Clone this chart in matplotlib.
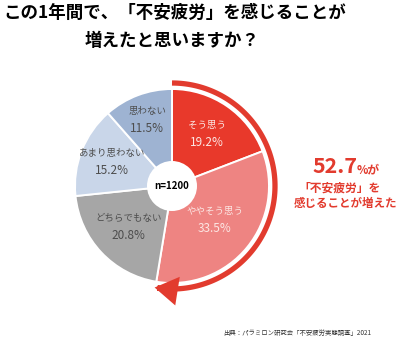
import numpy as np
import matplotlib.pyplot as plt
from matplotlib.patches import Circle, FancyArrowPatch
from matplotlib.path import Path

plt.rcParams['font.family'] = ['Noto Sans CJK JP', 'DejaVu Sans']

labels = ['そう思う', 'ややそう思う', 'どちらでもない', 'あまり思わない', '思わない']
shares = [19.2, 33.5, 20.8, 15.2, 11.5]
colors = ['#E8392B', '#EE8482', '#A6A6A6', '#C9D6E9', '#9EB3D2']
text_colors = ['#FCE6E3', '#FCE6E3', '#4D4D4D', '#4D4D4D', '#4D4D4D']
sample_size = 1200
increased = shares[0] + shares[1]

RED = '#E23B2E'

fig = plt.figure(figsize=(4.0, 3.47), dpi=100)
ax = fig.add_axes([0, 0, 1, 1])

cx, cy, radius = 172, 161, 97

wedges, _ = ax.pie(shares, colors=colors, startangle=90, counterclock=False,
                   center=(cx, cy), radius=radius, frame=True,
                   wedgeprops=dict(edgecolor='white', linewidth=1.4))
ax.set_xlim(0, 400)
ax.set_ylim(0, 347)
ax.set_aspect('equal')
ax.axis('off')

# slice labels: name above, percentage below, along each slice's mid angle
label_r = [0.64, 0.57, 0.62, 0.66, 0.72]
for w, lab, val, tc, lr in zip(wedges, labels, shares, text_colors, label_r):
    mid = np.deg2rad((w.theta1 + w.theta2) / 2)
    x = cx + radius * lr * np.cos(mid)
    y = cy + radius * lr * np.sin(mid)
    ax.text(x, y + 9, lab, ha='center', va='center', fontsize=6.8, color=tc)
    ax.text(x, y - 8, f'{val}%', ha='center', va='center', fontsize=8.5, color=tc)

ax.add_patch(Circle((cx, cy), 25, facecolor='white', edgecolor='none', zorder=3))
ax.text(cx, cy, f'n={sample_size}', ha='center', va='center', fontsize=7,
        fontweight='bold', color='black', zorder=4)

# arrow around the share that answered "increased"
arc_r = 103
theta = np.deg2rad(np.linspace(90, 90 - increased * 3.6, 120))
verts = np.column_stack([cx + arc_r * np.cos(theta), cy + arc_r * np.sin(theta)])
arrow = FancyArrowPatch(path=Path(verts), arrowstyle='-|>,head_length=0.8,head_width=0.5',
                        mutation_scale=14, color=RED, linewidth=3.8,
                        capstyle='butt', joinstyle='miter', zorder=2)
ax.add_patch(arrow)

# title
ax.text(3, 334, 'この1年間で、「不安疲労」を感じることが', ha='left', va='center',
        fontsize=12.6, fontweight='bold', color='black')
ax.text(172, 306, '増えたと思いますか？', ha='center', va='center',
        fontsize=12.6, fontweight='bold', color='black')

# callout on the right
ax.text(357, 174, f'{increased:.1f}', ha='right', va='baseline', fontsize=15.5,
        fontweight='bold', color=RED)
ax.text(357, 174, '%が', ha='left', va='baseline', fontsize=8.5,
        fontweight='bold', color=RED)
ax.text(340, 159, '「不安疲労」を', ha='center', va='center', fontsize=8.5,
        fontweight='bold', color=RED)
ax.text(346, 144, '感じることが増えた', ha='center', va='center', fontsize=8.3,
        fontweight='bold', color=RED)

ax.text(297, 14, '出典：パラミロン研究会「不安疲労実態調査」2021', ha='center', va='center',
        fontsize=4.6, color='#333333')

fig.savefig('out.png', dpi=100, facecolor='white')
